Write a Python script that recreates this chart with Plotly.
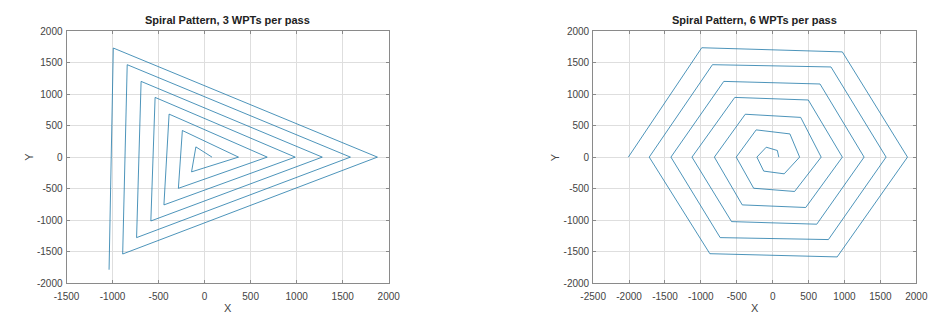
import plotly.graph_objects as go

# ---- data ----
tri_x = [80, -95, -142, 368, -242, -285, 680, -386, -442, 984, -538, -584,
         1278, -690, -739, 1584, -841, -890, 1877, -992, -1038]
tri_y = [0, 162, -234, 0, 422, -495, 0, 682, -758, 0, 947, -1013,
         0, 1201, -1277, 0, 1466, -1537, 0, 1730, -1786]

hex_x = [85, 65, -90, -220, -125, 160, 375, 240, -230, -508, -265, 305,
         675, 390, -382, -812, -424, 460, 970, 496, -528, -1124, -573, 614,
         1273, 659, -681, -1417, -731, 776, 1579, 812, -839, -1719, -875, 898,
         1877, 970, -988, -2010]
hex_y = [0, 105, 157, 0, -222, -265, 0, 368, 432, 0, -494, -545,
         0, 630, 680, 0, -758, -799, 0, 906, 947, 0, -1023, -1064,
         0, 1160, 1201, 0, -1277, -1308, 0, 1430, 1466, 0, -1532, -1583,
         0, 1669, 1735, 0]

left_xticks = [-1500, -1000, -500, 0, 500, 1000, 1500, 2000]
right_xticks = [-2500, -2000, -1500, -1000, -500, 0, 500, 1000, 1500, 2000]
yticks = [-2000, -1500, -1000, -500, 0, 500, 1000, 1500, 2000]
titles = ["Spiral Pattern, 3 WPTs per pass", "Spiral Pattern, 6 WPTs per pass"]

LINE = "#1f78a8"
FRAME = "#8a8a8a"
GRID = "#dedede"
TXT = "#444444"
FONT = "Liberation Sans, Arial, sans-serif"

fig = go.Figure()
fig.add_trace(go.Scatter(x=tri_x, y=tri_y, mode="lines",
                         line=dict(color=LINE, width=0.8), xaxis="x", yaxis="y",
                         showlegend=False))
fig.add_trace(go.Scatter(x=hex_x, y=hex_y, mode="lines",
                         line=dict(color=LINE, width=0.8), xaxis="x2", yaxis="y2",
                         showlegend=False))


def axis(domain, rng, ticks, anchor, standoff):
    return dict(domain=domain, range=rng, tickvals=ticks,
                ticktext=[str(t) for t in ticks], showgrid=True, gridcolor=GRID,
                gridwidth=1, zeroline=False, showline=True, linecolor=FRAME,
                linewidth=1, mirror="allticks", ticks="inside", ticklen=3,
                tickcolor=FRAME, tickfont=dict(family=FONT, size=10, color=TXT),
                anchor=anchor, fixedrange=True, ticklabelstandoff=standoff)


W, H = 940, 320
fig.update_layout(
    width=W, height=H,
    margin=dict(l=0, r=0, t=0, b=0),
    paper_bgcolor="white", plot_bgcolor="white",
    xaxis=axis([55 / W, 386 / W], [-1500, 2000], left_xticks, "y", 4),
    yaxis=axis([1 - 288 / H, 1 - 26 / H], [-2000, 2000], yticks, "x", 1),
    xaxis2=axis([596 / W, 928 / W], [-2500, 2000], right_xticks, "y2", 4),
    yaxis2=axis([1 - 288 / H, 1 - 26 / H], [-2000, 2000], yticks, "x2", 1),
)

ann = []
for cx, t in [((55 + 386) / 2, titles[0]), ((596 + 928) / 2, titles[1])]:
    ann.append(dict(x=cx / W, y=1 - 15 / H, xref="paper", yref="paper",
                    text="<b>" + t + "</b>", showarrow=False,
                    font=dict(family=FONT, size=11, color="#222222"),
                    xanchor="center", yanchor="middle"))
    ann.append(dict(x=cx / W, y=1 - 314 / H, xref="paper", yref="paper",
                    text="X", showarrow=False,
                    font=dict(family=FONT, size=11, color=TXT),
                    xanchor="center", yanchor="middle"))
for yx in [17, 557]:
    ann.append(dict(x=yx / W, y=1 - 157 / H, xref="paper", yref="paper",
                    text="Y", showarrow=False, textangle=-90,
                    font=dict(family=FONT, size=11, color=TXT),
                    xanchor="center", yanchor="middle"))
fig.update_layout(annotations=ann)

fig.write_html("out.html")
